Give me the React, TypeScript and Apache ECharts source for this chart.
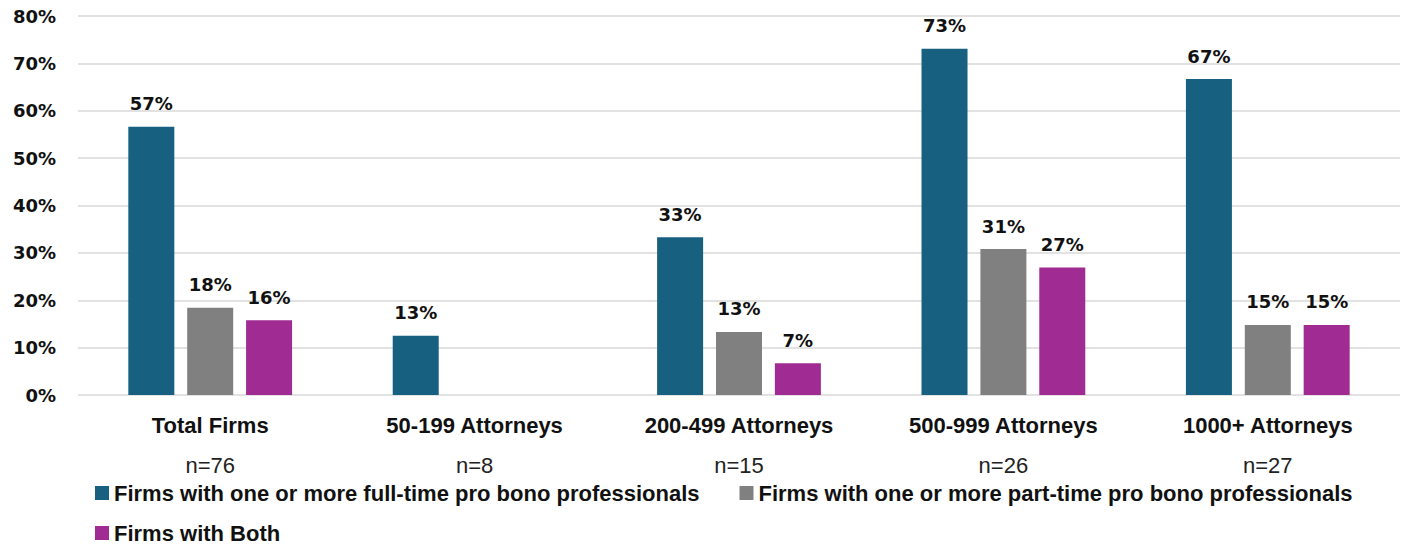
import React, { useEffect, useRef } from "react";
import * as echarts from "echarts";

const categories = ["Total Firms", "50-199 Attorneys", "200-499 Attorneys", "500-999 Attorneys", "1000+ Attorneys"];
const sampleSizes = ["n=76", "n=8", "n=15", "n=26", "n=27"];
const fullTime = [56.6, 12.5, 33.3, 73.1, 66.7];
const partTime = [18.4, 0, 13.3, 30.8, 14.8];
const both = [15.8, 0, 6.7, 26.9, 14.8];
const seriesNames = [
  "Firms with one or more full-time pro bono professionals",
  "Firms with one or more part-time pro bono professionals",
  "Firms with Both",
];
const colors = ["#17607F", "#808080", "#A02B93"];

const ARIAL = "'Liberation Sans', Arial, sans-serif";
const DEJAVU = "'DejaVu Sans', sans-serif";

export default function App() {
  const ref = useRef<HTMLDivElement>(null);
  useEffect(() => {
    if (!ref.current) return;
    const chart = echarts.init(ref.current, null, { renderer: "svg" });
    const label = {
      show: true,
      position: "top",
      distance: 14,
      fontFamily: DEJAVU,
      fontWeight: "bold",
      fontSize: 18,
      color: "#111",
      formatter: (p: any) => (p.value ? Math.round(p.value) + "%" : ""),
    };
    const mk = (name: string, data: number[], color: string) => ({
      name,
      type: "bar",
      data,
      barWidth: 46,
      barGap: "28%",
      itemStyle: { color },
      label,
    });
    const legendText = { fontFamily: ARIAL, fontWeight: "bold", fontSize: 22, color: "#111" };
    chart.setOption({
      animation: false,
      grid: { left: 78, right: 13, top: 16, bottom: 155, containLabel: false },
      xAxis: {
        type: "category",
        data: categories.map((c, i) => c + "\n" + sampleSizes[i]),
        axisLine: { show: false },
        axisTick: { show: false },
        axisLabel: {
          margin: 10,
          interval: 0,
          formatter: (v: string) => {
            const [a, b] = v.split("\n");
            return "{c|" + a + "}\n{n|" + b + "}";
          },
          rich: {
            c: { fontFamily: ARIAL, fontWeight: "bold", fontSize: 22, color: "#111", lineHeight: 40 },
            n: { fontFamily: ARIAL, fontSize: 22, color: "#222", lineHeight: 40 },
          },
        },
      },
      yAxis: {
        type: "value",
        min: 0,
        max: 80,
        interval: 10,
        axisLabel: {
          formatter: "{value}%",
          fontFamily: DEJAVU,
          fontWeight: "bold",
          fontSize: 18,
          color: "#111",
          margin: 22,
        },
        splitLine: { lineStyle: { color: "#d9d9d9", width: 1.5 } },
      },
      legend: [
        {
          data: [seriesNames[0], seriesNames[1]],
          left: 90,
          top: 477,
          icon: "rect",
          itemWidth: 14,
          itemHeight: 14,
          itemGap: 40,
          textStyle: legendText,
        },
        {
          data: [seriesNames[2]],
          left: 90,
          top: 517,
          icon: "rect",
          itemWidth: 14,
          itemHeight: 14,
          textStyle: legendText,
        },
      ],
      series: [
        mk(seriesNames[0], fullTime, colors[0]),
        mk(seriesNames[1], partTime, colors[1]),
        mk(seriesNames[2], both, colors[2]),
      ],
    });
    return () => chart.dispose();
  }, []);
  return <div ref={ref} style={{ width: 1413, height: 550, margin: -8 }} />;
}
